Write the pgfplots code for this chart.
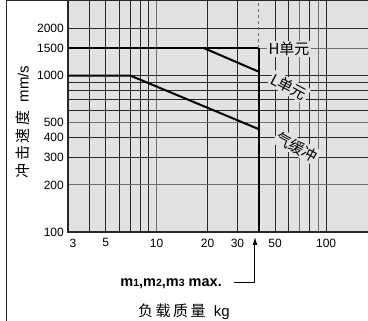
\documentclass[border=0pt]{standalone}
\usepackage{fontspec}
\setmainfont{Liberation Sans}
\newfontfamily\cjk{Noto Sans CJK SC}
\usepackage{pgfplots}
\pgfplotsset{compat=1.18}
\usetikzlibrary{arrows.meta,calc}
\definecolor{plotbg}{RGB}{225,226,228}
\definecolor{gdark}{RGB}{40,40,40}
\definecolor{ggrey}{RGB}{110,110,110}
\begin{document}
\begin{tikzpicture}
\begin{axis}[
  at={(0pt,0pt)}, anchor=south west,
  scale only axis, width=300pt, height=231pt,
  xmode=log, ymode=log,
  xmin=3, xmax=176.7, ymin=100, ymax=3000,
  axis background/.style={fill=plotbg},
  axis line style={draw=none},
  major tick length=0pt, minor tick length=0pt,
  minor xtick={}, minor ytick={},
  log ticks with fixed point,
  /pgf/number format/assume math mode=true,
  xtick={5,10,20,30,50,100},
  xticklabels={5,10,20,30,50,100},
  ytick={100,200,300,400,500,1000,1500,2000},
  yticklabels={100,200,300,400,500,1000,1500,2000},
  tick label style={font=\fontsize{12}{14}\selectfont},
  xticklabel style={anchor=north, inner sep=0pt, yshift=-6.5pt},
  yticklabel style={anchor=east, inner sep=0pt, xshift=-4pt},
  clip=false,
]
% grid lines
\pgfplotsinvokeforeach{4,5,6,7,8,9,20,30,50,60,80,100}{
  \draw[gdark, line width=0.9pt] (axis cs:#1,100) -- (axis cs:#1,3000);
}
\pgfplotsinvokeforeach{10,70,90}{
  \draw[ggrey, line width=0.9pt] (axis cs:#1,100) -- (axis cs:#1,3000);
}
\pgfplotsinvokeforeach{300,400,600,700,800,900,1000,2000}{
  \draw[gdark, line width=0.9pt] (axis cs:3,#1) -- (axis cs:176.7,#1);
}
\pgfplotsinvokeforeach{200,500,1500}{
  \draw[ggrey, line width=0.9pt] (axis cs:3,#1) -- (axis cs:176.7,#1);
}
% axis frame (left, bottom)
\draw[gdark, line width=1.1pt] (rel axis cs:0,1) -- (rel axis cs:0,0) -- (rel axis cs:1,0);
% data
\addplot[black, line width=2pt, no marks] coordinates {(3,1500) (40,1500)};
\addplot[black, line width=2pt, no marks] coordinates {(19,1500) (40,1060)};
\addplot[black, line width=2pt, no marks] coordinates {(3,1000) (7,1000) (40,455)};
\addplot[black, line width=1.8pt, no marks] coordinates {(40,100) (40,1500)};
\addplot[ggrey, dashed, line width=1pt, no marks] coordinates {(40,1500) (40,3000)};
\node[anchor=north, inner sep=0pt, font=\fontsize{12}{14}\selectfont] at ($(axis cs:3,100)+(5pt,-6.5pt)$) {3};
\end{axis}
% series labels
\node[fill=plotbg, inner sep=1.5pt, font=\fontsize{15}{16}\selectfont] at (221pt,183pt) {\cjk H单元};
\node[fill=plotbg, inner sep=1.5pt, rotate=-28, font=\fontsize{15}{16}\selectfont] at (221pt,145pt) {\cjk L单元};
\node[fill=plotbg, inner sep=1.5pt, rotate=-29, font=\fontsize{15}{16}\selectfont] at (229pt,85pt) {\cjk 气缓冲};
% max arrow
\draw[black, line width=1pt, -{Latex[length=8pt,width=5pt]}] (166pt,-51pt) -- (187pt,-51pt) -- (187pt,-5pt);
\node[anchor=east, inner sep=0pt, font=\bfseries\fontsize{14.5}{16}\selectfont] at (154pt,-52pt) {m{\fontsize{10.5}{12}\selectfont 1},m{\fontsize{10.5}{12}\selectfont 2},m{\fontsize{10.5}{12}\selectfont 3} max.};
% axis titles
\node[font=\fontsize{15}{16}\selectfont] at (116pt,-80pt) {{\cjk 负\,载\,质\,量}\ \ kg};
\node[rotate=90, font=\fontsize{15}{16}\selectfont] at (-45pt,110pt) {{\cjk 冲\,击\,速\,度}\ \ mm/s};
% outer frame
\draw[gdark, line width=1pt] (-61pt,-89pt) -- (-61pt,231.6pt) -- (300pt,231.6pt);
\pgfresetboundingbox
\useasboundingbox (-68pt,-89pt) rectangle (300pt,232pt);
\end{tikzpicture}
\end{document}
